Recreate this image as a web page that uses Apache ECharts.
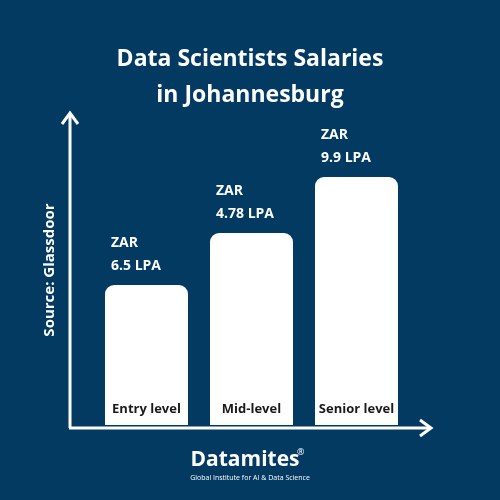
<!DOCTYPE html>
<html><head><meta charset="utf-8">
<script src="https://cdn.jsdelivr.net/npm/echarts@6/dist/echarts.min.js"></script>
<style>html,body{margin:0;padding:0;background:#033a62}#c{width:500px;height:500px}</style>
</head><body><div id="c"></div>
<script>
const categories = ['Entry level', 'Mid-level', 'Senior level'];
const salaryLabels = ['6.5 LPA', '4.78 LPA', '9.9 LPA'];
const barHeights = [140, 192, 248]; // visual bar heights as drawn in the infographic
const chart = echarts.init(document.getElementById('c'));
const white = '#ffffff', bg = '#033a62', font = 'Open Sans';
chart.setOption({
  backgroundColor: bg,
  animation: false,
  title: { text: 'Data Scientists Salaries\nin Johannesburg', left: 'center', top: 36,
    textStyle: { color: white, fontSize: 23, fontWeight: 'bold', fontFamily: font, lineHeight: 36 } },
  grid: { left: 94, right: 91, top: 125, bottom: 75 },
  xAxis: { type: 'category', data: categories, axisLine: { show: false }, axisTick: { show: false }, axisLabel: { show: false } },
  yAxis: { type: 'value', min: 0, max: 300, show: false },
  series: [
    { type: 'bar', data: barHeights, barWidth: 83, itemStyle: { color: white, borderRadius: [9, 9, 0, 0] },
      label: { show: true, position: [6, -53], color: white, fontWeight: 'bold', fontSize: 14, fontFamily: font, lineHeight: 23,
        formatter: p => 'ZAR\n' + salaryLabels[p.dataIndex] } },
    { type: 'bar', data: barHeights, barWidth: 83, barGap: '-100%', itemStyle: { color: 'rgba(0,0,0,0)' },
      label: { show: true, position: 'insideBottom', distance: 9, color: '#1a1a1a', fontWeight: 'bold', fontSize: 13, fontFamily: font,
        formatter: p => categories[p.dataIndex] } }
  ],
  graphic: [
    { type: 'polyline', shape: { points: [[70, 428], [70, 113]] }, style: { stroke: white, lineWidth: 3 } },
    { type: 'polyline', shape: { points: [[62, 124], [70, 113], [78, 124]] }, style: { stroke: white, lineWidth: 3, fill: null } },
    { type: 'polyline', shape: { points: [[69, 428], [431, 428]] }, style: { stroke: white, lineWidth: 3 } },
    { type: 'polyline', shape: { points: [[420, 420], [431, 428], [420, 436]] }, style: { stroke: white, lineWidth: 3, fill: null } },
    { type: 'text', x: 50, y: 270, rotation: Math.PI / 2, style: { text: 'Source: Glassdoor', fill: white, font: 'bold 15px "Open Sans"', align: 'center', verticalAlign: 'middle' } },
    { type: 'text', x: 245, y: 460, style: { text: 'Datamites', fill: white, font: 'bold 21px "Open Sans"', align: 'center', verticalAlign: 'middle' } },
    { type: 'text', x: 297, y: 452, style: { text: '®', fill: white, font: '9px "Open Sans"', align: 'left', verticalAlign: 'middle' } },
    { type: 'text', x: 250, y: 478, style: { text: 'Global Institute for AI & Data Science', fill: white, font: '7px "Open Sans"', align: 'center', verticalAlign: 'middle' } }
  ]
});
</script></body></html>
